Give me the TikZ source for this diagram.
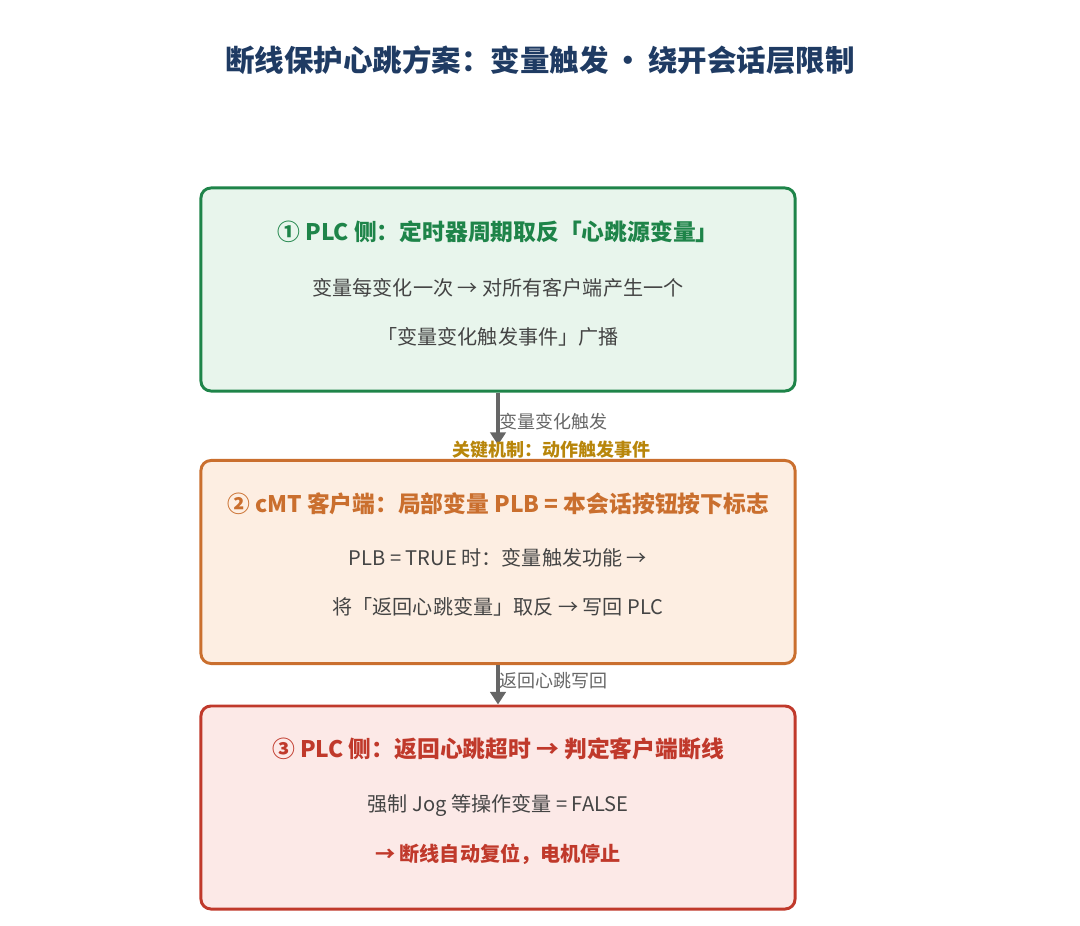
\documentclass[tikz,border=0pt]{standalone}
\usepackage{fontspec}
\setmainfont{Noto Sans CJK SC}
\usetikzlibrary{arrows.meta}

\definecolor{titleblue}{HTML}{1F3B63}
\definecolor{plcgreen}{HTML}{1E8449}
\definecolor{plcgreenbg}{HTML}{E8F5EC}
\definecolor{cmtorange}{HTML}{CA6F2E}
\definecolor{cmtorangebg}{HTML}{FDEEE2}
\definecolor{plcred}{HTML}{C0392B}
\definecolor{plcredbg}{HTML}{FCE9E7}
\definecolor{bodygray}{HTML}{444444}
\definecolor{flowgray}{HTML}{666666}
\definecolor{keygold}{HTML}{B8860B}

\begin{document}
\begin{tikzpicture}[x=0.025cm, y=-0.025cm,
    stagebox/.style={rounded corners=0.25cm, line width=2.1pt, minimum width=14.85cm, minimum height=5.075cm},
    stagehead/.style={font=\fontsize{16.2}{19}\selectfont\bfseries},
    stagetext/.style={font=\fontsize{14.3}{17}\selectfont, text=bodygray},
    flow/.style={-{Triangle[width=11pt,length=9pt]}, line width=2.8pt, flowgray},
    flowlabel/.style={font=\fontsize{12.8}{15}\selectfont, inner sep=0pt}]

      \useasboundingbox (0,0) rectangle (1080,926);

      \node[font=\fontsize{21}{25}\selectfont\bfseries, text=titleblue] (title) at (540,60) {断线保护心跳方案：变量触发\,•\,绕开会话层限制};

      % stage boxes
      \node[stagebox, draw=plcgreen, fill=plcgreenbg] (plc) at (498,289.5) {};
      \node[stagebox, draw=cmtorange, fill=cmtorangebg] (cmt) at (498,562) {};
      \node[stagebox, draw=plcred, fill=plcredbg] (timeout) at (498,807.5) {};

      % texts in the boxes
      \node[stagehead, text=plcgreen] (plchead) at (498,232) {① PLC 侧：定时器周期取反「心跳源变量」};
      \node[stagetext] (plcline1) at (498,288) {变量每变化一次 → 对所有客户端产生一个};
      \node[stagetext] (plcline2) at (498,337) {「变量变化触发事件」广播};

      \node[stagehead, text=cmtorange] (cmthead) at (498,504) {② cMT 客户端：局部变量 PLB = 本会话按钮按下标志};
      \node[stagetext] (cmtline1) at (498,558) {PLB = TRUE 时：变量触发功能 →};
      \node[stagetext] (cmtline2) at (498,607) {将「返回心跳变量」取反 → 写回 PLC};

      \node[stagehead, text=plcred] (tohead) at (498,749) {③ PLC 侧：返回心跳超时 → 判定客户端断线};
      \node[stagetext] (toline1) at (498,805) {强制 Jog 等操作变量 = FALSE};
      \node[stagetext, text=plcred, font=\fontsize{14.3}{17}\selectfont\bfseries] (toline2) at (498,854) {→ 断线自动复位，电机停止};

      % connectors
      \draw[flow, shorten >=10pt] (plc.south) -- (cmt.north);
      \draw[flow] (cmt.south) -- (timeout.north);

      \node[flowlabel, text=flowgray, anchor=west] (trig) at (499,422) {变量变化触发};
      \node[flowlabel, text=keygold, font=\fontsize{12.8}{15}\selectfont\bfseries] (keynote) at (551,450) {关键机制：动作触发事件};
      \node[flowlabel, text=flowgray, anchor=west] (back) at (499,681) {返回心跳写回};

\end{tikzpicture}
\end{document}
